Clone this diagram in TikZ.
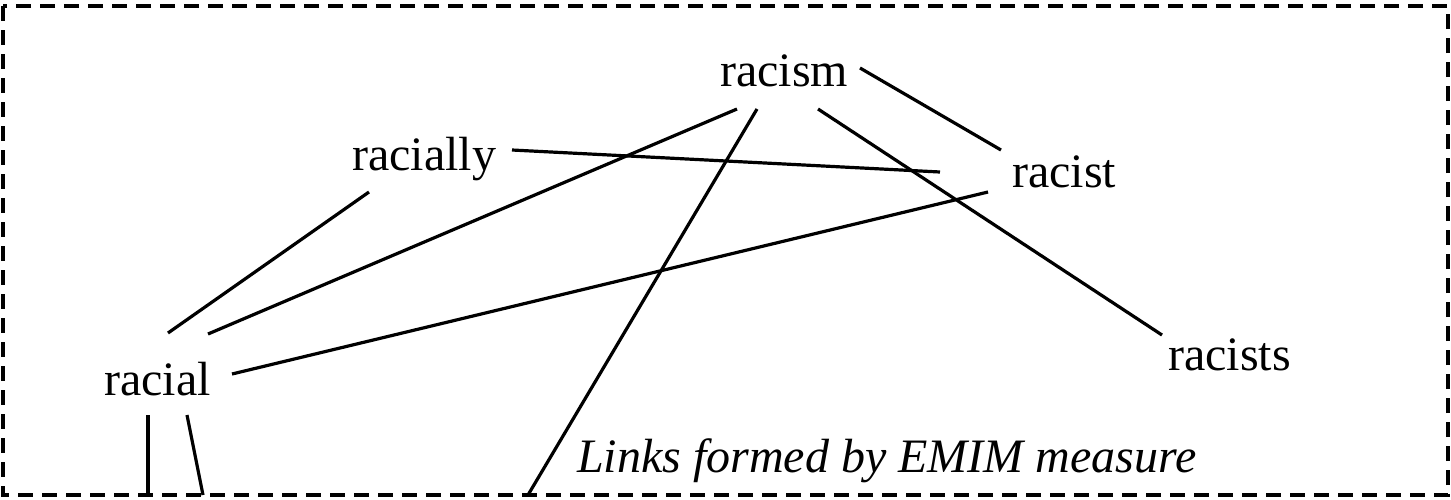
\documentclass[tikz,border=0pt]{standalone}
\usepackage{fontspec}
\setmainfont{Liberation Serif}
\begin{document}
\begin{tikzpicture}[x=1pt,y=-1pt,
  lbl/.style={anchor=base west, inner sep=0pt, font=\fontsize{48}{50}\selectfont},
  link/.style={line width=3.2pt},
  frame/.style={line width=3.8pt, dash pattern=on 15pt off 9pt}]
\useasboundingbox (0,0) rectangle (1451,499);
\draw[frame] (3,6) rectangle (1448,495);
% words
\node[lbl] (racism)   at (720,86)  {racism};
\node[lbl] (racially) at (352,170) {racially};
\node[lbl] (racist)   at (1012,187) {racist};
\node[lbl] (racial)   at (104,395) {racial};
\node[lbl] (racists)  at (1168,370) {racists};
\node[lbl, font=\fontsize{48}{50}\selectfont\itshape] (caption) at (577,472) {Links formed by EMIM measure};
% connector end points
\coordinate (rm-r)  at (860,68);
\coordinate (rt-tl) at (1001,150);
\coordinate (rm-b3) at (818,109);
\coordinate (rs-t)  at (1162,335);
\coordinate (rm-b1) at (737,109);
\coordinate (rl-t2) at (208,334);
\coordinate (rm-b2) at (757,109);
\coordinate (out1)  at (528,495);
\coordinate (ry-r)  at (512,150);
\coordinate (rt-l)  at (940,172);
\coordinate (rt-bl) at (988,192);
\coordinate (rl-r)  at (232,374);
\coordinate (ry-b)  at (369,192);
\coordinate (rl-t1) at (168,333);
\coordinate (rl-b1) at (148,415);
\coordinate (out2)  at (148,495);
\coordinate (rl-b2) at (187,415);
\coordinate (out3)  at (203,495);
% links
\draw[link] (rm-r) -- (rt-tl);
\draw[link] (rm-b3) -- (rs-t);
\draw[link] (rm-b1) -- (rl-t2);
\draw[link] (rm-b2) -- (out1);
\draw[link] (ry-r) -- (rt-l);
\draw[link] (rt-bl) -- (rl-r);
\draw[link] (ry-b) -- (rl-t1);
\draw[link] (rl-b1) -- (out2);
\draw[link] (rl-b2) -- (out3);
\end{tikzpicture}
\end{document}
